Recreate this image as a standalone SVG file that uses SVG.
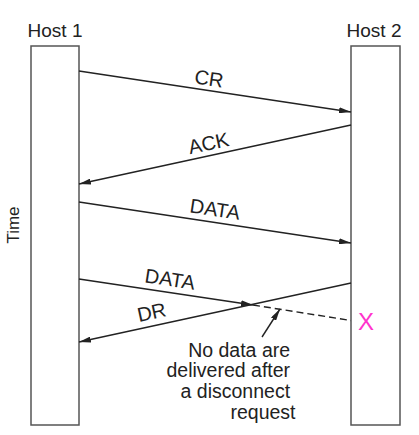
<svg xmlns="http://www.w3.org/2000/svg" width="419" height="435" viewBox="0 0 419 435">
<style>
.host{fill:#fff;stroke:#555;stroke-width:1.5}
.lbl{font-family:"Liberation Sans",Arial,sans-serif;fill:#222}
.msg{stroke:#222;stroke-width:1.4;fill:none}
</style>
<defs>
<marker id="ah" viewBox="0 0 12 6" refX="12" refY="3" markerWidth="12" markerHeight="6" markerUnits="userSpaceOnUse" orient="auto">
<path d="M0,0 L12,3 L0,6 Z" fill="#222"/>
</marker>
</defs>
<rect width="419" height="435" fill="#fff"/>
<g id="host1">
<rect class="host" x="31" y="46" width="48" height="379"/>
<text class="lbl" x="55" y="37" font-size="19" text-anchor="middle">Host 1</text>
</g>
<g id="host2">
<rect class="host" x="351" y="46" width="49" height="379"/>
<text class="lbl" x="374" y="37" font-size="19" text-anchor="middle">Host 2</text>
</g>
<g id="time">
<text class="lbl" x="0" y="0" font-size="17" text-anchor="middle" transform="translate(18.5,225) rotate(-90)">Time</text>
</g>
<g id="connectors">
<line class="msg" x1="79" y1="71" x2="351" y2="112" marker-end="url(#ah)"/>
<line class="msg" x1="351" y1="125" x2="79" y2="184" marker-end="url(#ah)"/>
<line class="msg" x1="79" y1="202" x2="351" y2="243" marker-end="url(#ah)"/>
<line class="msg" x1="79" y1="279" x2="253" y2="305" marker-end="url(#ah)"/>
<line class="msg" x1="253" y1="305" x2="351" y2="320.5" stroke-dasharray="7,4"/>
<line class="msg" x1="351" y1="283" x2="79" y2="342" marker-end="url(#ah)"/>
<line class="msg" x1="262" y1="337" x2="280" y2="309" marker-end="url(#ah)"/>
</g>
<g id="labels">
<text class="lbl" font-size="20" text-anchor="middle" transform="translate(208,85.5) rotate(8.6)">CR</text>
<text class="lbl" font-size="20" text-anchor="middle" transform="translate(210,150) rotate(-12.2)">ACK</text>
<text class="lbl" font-size="20" text-anchor="middle" transform="translate(214,216) rotate(8.6)">DATA</text>
<text class="lbl" font-size="20" text-anchor="middle" transform="translate(169,286) rotate(8.7)">DATA</text>
<text class="lbl" font-size="20" text-anchor="middle" transform="translate(153,319) rotate(-12.2)">DR</text>
</g>
<g id="lost">
<text x="366" y="330" font-size="24" text-anchor="middle" font-family="Liberation Sans,Arial,sans-serif" fill="#ff33cc">X</text>
</g>
<g id="note">
<text class="lbl" font-size="19.5" text-anchor="end">
<tspan x="295.5" y="356.6">No data are</tspan>
<tspan x="295.5" y="377.4">delivered after</tspan>
<tspan x="295.5" y="398.2">a disconnect</tspan>
<tspan x="295.5" y="419">request</tspan>
</text>
</g>
</svg>
